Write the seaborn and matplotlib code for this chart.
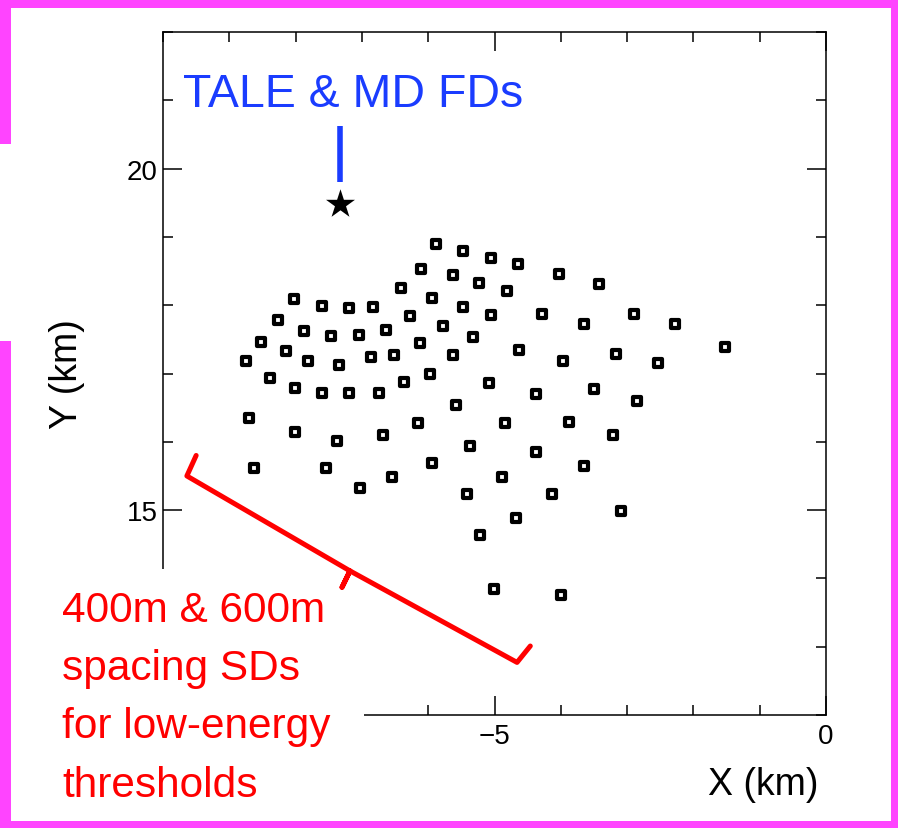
import numpy as np
import pandas as pd
import seaborn as sns
import matplotlib.pyplot as plt
from matplotlib.patches import Rectangle
from matplotlib.lines import Line2D
from matplotlib.ticker import MultipleLocator

# surface detector positions (km)
sd_x = [-5.88, -5.47, -5.06, -4.64, -4.03, -3.42, -6.11, -5.63, -5.23, -4.81,
        -6.41, -5.94, -5.48, -5.05, -4.28, -3.65, -2.90, -2.28, -8.02, -7.60,
        -7.20, -6.83, -8.26, -6.27, -7.88, -7.47, -7.05, -6.63, -5.78, -8.52,
        -5.32, -8.15, -6.13, -4.63, -3.97, -3.16, -2.53, -1.53, -8.75, -7.81,
        -7.34, -6.86, -6.51, -5.62, -8.38, -8.01, -7.60, -7.19, -6.74, -6.36,
        -5.97, -5.08, -4.37, -3.50, -2.85, -5.58, -8.71, -8.01, -7.38, -6.68,
        -6.16, -4.84, -3.88, -3.22, -5.37, -4.37, -8.63, -7.54, -7.03, -6.55,
        -5.94, -4.88, -3.65, -5.42, -4.13, -4.67, -3.09, -5.22, -5.01, -3.99]
sd_y = [18.89, 18.79, 18.69, 18.60, 18.45, 18.31, 18.53, 18.44, 18.33, 18.21,
        18.25, 18.10, 17.97, 17.86, 17.87, 17.73, 17.87, 17.73, 18.09, 17.99,
        17.96, 17.98, 17.79, 17.84, 17.62, 17.55, 17.57, 17.63, 17.69, 17.46,
        17.53, 17.33, 17.44, 17.35, 17.18, 17.29, 17.15, 17.39, 17.19, 17.19,
        17.13, 17.24, 17.27, 17.27, 16.93, 16.79, 16.72, 16.71, 16.71, 16.87,
        17.00, 16.86, 16.70, 16.77, 16.60, 16.54, 16.35, 16.15, 16.01, 16.10,
        16.28, 16.28, 16.29, 16.10, 15.94, 15.85, 15.61, 15.61, 15.33, 15.49,
        15.69, 15.49, 15.64, 15.23, 15.23, 14.89, 14.99, 14.63, 13.84, 13.75]

# fluorescence detector site
fd_x = [-7.33]
fd_y = [19.48]

x_ticks = [-5, 0]
y_ticks = [15, 20]

fd_label = "TALE & MD FDs"
sd_label_lines = ["400m & 600m", "spacing SDs", "for low-energy", "thresholds"]

W, H = 898, 829
MAGENTA = "#ff44ff"
BLUE = "#1a3cff"
RED = "#ff0000"


def px_rect(fig, x0, y0, x1, y1, color, z):
    # rectangle given in image pixels (origin top-left)
    r = Rectangle((x0 / W, 1 - y1 / H), (x1 - x0) / W, (y1 - y0) / H,
                  transform=fig.transFigure, facecolor=color, edgecolor="none",
                  zorder=z)
    fig.add_artist(r)


sns.set_theme(style="ticks")
plt.rcParams["font.family"] = ["Liberation Sans", "DejaVu Sans"]
plt.rcParams.update({"text.color": "black", "axes.labelcolor": "black",
                     "xtick.color": "black", "ytick.color": "black",
                     "axes.edgecolor": "black"})

fig = plt.figure(figsize=(W / 100, H / 100), dpi=100)
ax = fig.add_axes([163 / W, 1 - 716 / H, (826 - 163) / W, (716 - 33) / H])

df = pd.DataFrame({"x": sd_x, "y": sd_y})
sns.scatterplot(data=df, x="x", y="y", marker="s", s=34, color="white",
                edgecolor="black", linewidth=3.0, ax=ax, zorder=3)
sns.scatterplot(x=fd_x, y=fd_y, marker="*", s=480, color="black",
                linewidth=0, ax=ax, zorder=3)

ax.set_xlim(-10, 0)
ax.set_ylim(12, 22)
ax.set_xticks(x_ticks)
ax.set_yticks(y_ticks)
ax.xaxis.set_minor_locator(MultipleLocator(1))
ax.yaxis.set_minor_locator(MultipleLocator(1))
ax.tick_params(which="both", direction="in", top=True, right=True,
               width=1.1, color="black")
ax.tick_params(which="major", length=14)
ax.tick_params(which="minor", length=7)
ax.tick_params(axis="x", labelsize=20, pad=6)
ax.tick_params(axis="y", labelsize=20, pad=4)
for s in ax.spines.values():
    s.set_linewidth(1.1)

ax.set_xlabel("X (km)", fontsize=27, loc="right")
ax.xaxis.set_label_coords((818 - 163) / 663, -0.075)
ax.set_ylabel("Y (km)", fontsize=27, labelpad=30)

# FD annotation
ax.text(-9.70, 20.92, fd_label, color=BLUE, fontsize=33.5, va="baseline",
        ha="left")
ax.plot([-7.33, -7.33], [20.63, 19.81], color=BLUE, lw=4, solid_capstyle="butt")

# white cut-out in the lower-left corner
px_rect(fig, 11, 570, 364, 822, "white", 5)

# red bracket for the low-energy SDs
brace_x = [-9.50, -9.64, -7.18, -7.30, -7.18, -4.66, -4.46]
brace_y = [15.80, 15.50, 14.11, 13.87, 14.11, 12.77, 13.01]
fig.add_artist(Line2D(brace_x, brace_y, transform=ax.transData, color=RED,
                      lw=3.6, solid_joinstyle="round", solid_capstyle="round",
                      zorder=6))

for i, line in enumerate(sd_label_lines):
    fig.text(62 / W, 1 - (621.7 + i * 58.3) / H, line, color=RED, fontsize=30.5,
             va="baseline", ha="left", zorder=7)

# magenta frame, broken on the left side
px_rect(fig, 0, 0, W, 9, MAGENTA, 8)
px_rect(fig, 0, 821.7, W, H, MAGENTA, 8)
px_rect(fig, 890.7, 0, W, H, MAGENTA, 8)
px_rect(fig, 0, 0, 11, 145, MAGENTA, 8)
px_rect(fig, 0, 342, 11, H, MAGENTA, 8)

fig.savefig("out.png", dpi=100, facecolor="white")
